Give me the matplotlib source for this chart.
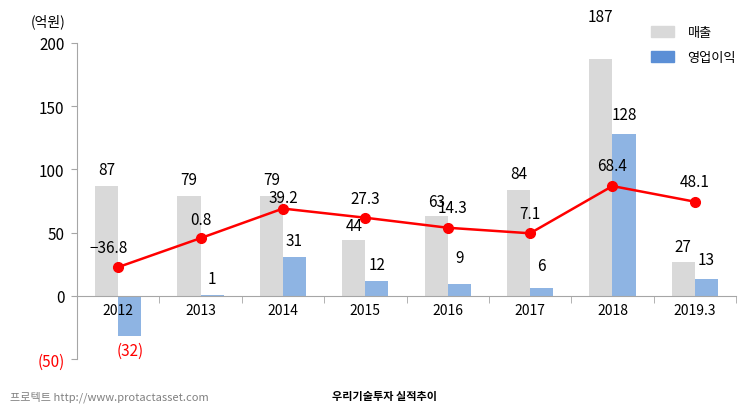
import numpy as np
import matplotlib.pyplot as plt
from matplotlib.patches import Patch

plt.rcParams['font.family'] = ['Noto Sans CJK KR', 'DejaVu Sans']

years = ['2012', '2013', '2014', '2015', '2016', '2017', '2018', '2019.3']
sales = [87, 79, 79, 44, 63, 84, 187, 27]
op_profit = [-32, 1, 31, 12, 9, 6, 128, 13]
margin = [-36.8, 0.8, 39.2, 27.3, 14.3, 7.1, 68.4, 48.1]

# label nudges (pixels above the bar top / point)
sales_off = [16, 16, 16, 15, 15, 16, 43, 15]
profit_off = [-14, 16, 16, 16, 27, 23, 20, 20]
margin_off = [(-10, 20), (0, 19), (0, 11), (0, 19), (5, 20), (0, 20), (0, 21), (0, 20)]

PX = 0.72  # points per pixel at 100 dpi

fig = plt.figure(figsize=(7.43, 4.14), dpi=100)
ax = fig.add_axes([77 / 743, 1 - 360 / 414, 659 / 743, 316 / 414])

x = np.arange(len(years))
w = 0.28
gray = '#D9D9D9'
blue = '#8EB4E3'

ax.bar(x - w / 2, sales, w, color=gray)
ax.bar(x + w / 2, op_profit, w, color=blue)

for i, v in enumerate(sales):
    ax.annotate(str(v), (x[i] - w / 2, v), xytext=(0, sales_off[i] * PX),
                textcoords='offset points', ha='center', va='center', fontsize=11)
for i, v in enumerate(op_profit):
    txt = f'({abs(v)})' if v < 0 else str(v)
    col = 'red' if v < 0 else 'black'
    ax.annotate(txt, (x[i] + w / 2, v), xytext=(0, profit_off[i] * PX),
                textcoords='offset points', ha='center', va='center', fontsize=11, color=col)

ax.set_xlim(-0.5, len(years) - 0.5)
ax.set_ylim(-50, 200)
ax.set_yticks([-50, 0, 50, 100, 150, 200])
ax.set_yticklabels(['(50)', '0', '50', '100', '150', '200'], fontsize=11)
ax.get_yticklabels()[0].set_color('red')

ax.set_xticks(x)
ax.set_xticklabels(years, fontsize=9)
ax.set_xticks(np.arange(len(years) + 1) - 0.5, minor=True)
ax.tick_params(axis='x', which='major', length=0, pad=5)
ax.tick_params(axis='x', which='minor', length=5, color='#A6A6A6', direction='out')
ax.tick_params(axis='y', length=4, color='#A6A6A6', pad=5)

ax.spines['top'].set_visible(False)
ax.spines['right'].set_visible(False)
ax.spines['bottom'].set_position(('data', 0))
ax.spines['bottom'].set_color('#A6A6A6')
ax.spines['left'].set_color('#A6A6A6')

ax2 = ax.twinx()
ax2.plot(x, margin, color='#FF0000', lw=1.8, marker='o', markersize=7)
ax2.set_ylim(-156, 254)
ax2.axis('off')
for i, v in enumerate(margin):
    dx, dy = margin_off[i]
    ax2.annotate(str(v).replace('-', '−'), (x[i], v), xytext=(dx * PX, dy * PX),
                 textcoords='offset points', ha='center', va='center', fontsize=11)

handles = [Patch(color=gray, label='매출'), Patch(color='#5B8FD6', label='영업이익')]
ax.legend(handles=handles, loc='upper right', bbox_to_anchor=(1.018, 1.09), frameon=False,
          fontsize=9.5, handlelength=1.8, handleheight=0.9, handletextpad=1.0,
          labelspacing=0.9)

fig.text(48 / 743, 1 - 22 / 414, '(억원)', ha='center', va='center', fontsize=10)
fig.text(10 / 743, 1 - 397 / 414, '프로텍트 http://www.protactasset.com', ha='left',
         va='center', fontsize=8, color='#808080')
fig.text(385 / 743, 1 - 397 / 414, '우리기술투자 실적추이', ha='center', va='center',
         fontsize=8, fontweight='bold')

fig.savefig('out.png', dpi=100)
